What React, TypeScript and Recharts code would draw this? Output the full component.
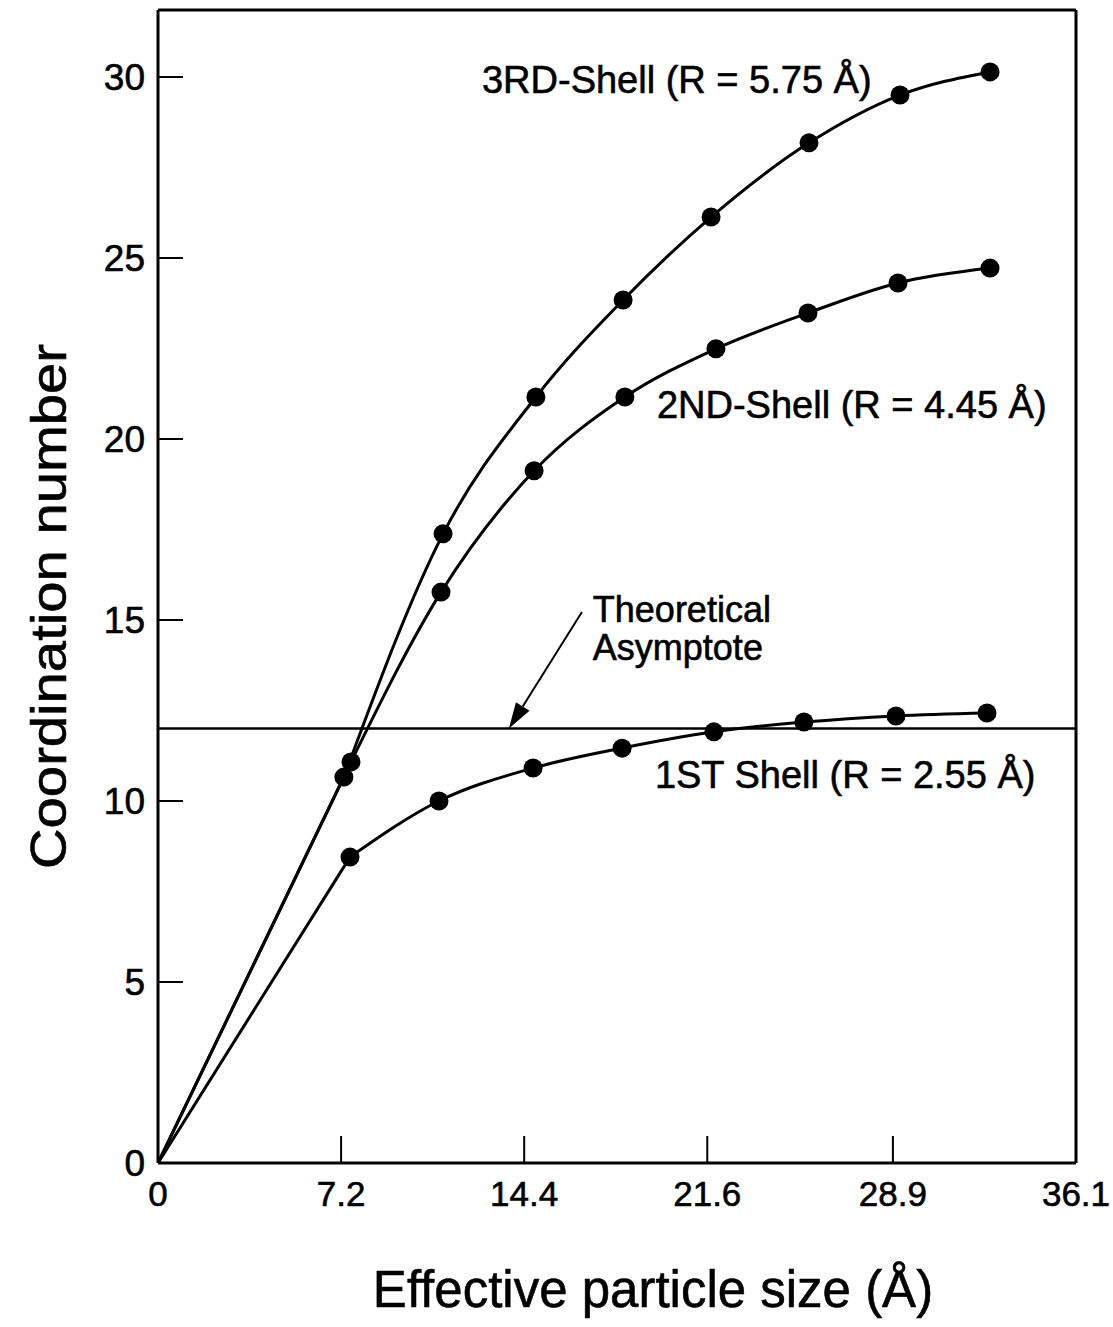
import React from 'react';
import { LineChart, Line, XAxis, YAxis, ReferenceLine, ReferenceDot, Label } from 'recharts';

// axis ticks
const xTicks = [0, 7.2, 14.4, 21.6, 28.9, 36.1];
const yTicks = [0, 5, 10, 15, 20, 25, 30];

// effective particle size (Å) and coordination number per shell; every curve starts at the origin
const shell3Size = [0, 7.31, 11.21, 14.86, 18.29, 21.75, 25.6, 29.18, 32.72];
const shell3Cn = [0, 10.66, 17.38, 21.16, 23.84, 26.13, 28.18, 29.5, 30.14];

const shell2Size = [0, 7.59, 11.13, 14.79, 18.36, 21.94, 25.56, 29.1, 32.72];
const shell2Cn = [0, 11.08, 15.77, 19.12, 21.16, 22.49, 23.48, 24.31, 24.72];

const shell1Size = [0, 7.55, 11.05, 14.75, 18.25, 21.86, 25.4, 29.02, 32.6];
const shell1Cn = [0, 8.45, 10.0, 10.91, 11.46, 11.91, 12.18, 12.35, 12.43];

const asymptote = 12;

const toPoints = (xs: number[], ys: number[]) => xs.map((size, i) => ({ size, cn: ys[i] }));

// the run up from the origin is a straight segment, the rest a smooth curve through the dots
const splitShell = (xs: number[], ys: number[]) => {
  const pts = toPoints(xs, ys);
  return { start: pts.slice(0, 2), curve: pts.slice(1) };
};

const shells = [
  splitShell(shell3Size, shell3Cn),
  splitShell(shell2Size, shell2Cn),
  splitShell(shell1Size, shell1Cn),
];

// where the annotations sit, in data units (left edge, baseline)
const notes = {
  shell3: { x: 12.74, y: 29.56, text: '3RD-Shell (R = 5.75 Å)' },
  shell2: { x: 19.62, y: 20.58, text: '2ND-Shell (R = 4.45 Å)' },
  shell1: { x: 19.54, y: 10.36, text: '1ST Shell (R = 2.55 Å)' },
  theory: { x: 17.1, y: 14.94 },
  arrowFrom: { x: 16.67, y: 15.22 },
  arrowTo: { x: 13.8, y: 12 },
};

const FONT = '"Liberation Sans", Arial, Helvetica, sans-serif';
const inkText = { fill: '#000', stroke: '#000', strokeWidth: 0.6 };

const renderDot = (props: any) => {
  const { cx, cy, index } = props;
  return <circle key={`dot-${index}`} cx={cx} cy={cy} r={9.5} fill="#000" />;
};

const noteShape = (text: string) => (p: any) => (
  <text x={p.cx} y={p.cy} fontSize={38} fontFamily={FONT} {...inkText}>
    {text}
  </text>
);

const arrowShape = (p: any) => {
  const { x1, y1, x2, y2 } = p;
  const ang = Math.atan2(y2 - y1, x2 - x1);
  const len = 26;
  const half = 8;
  const bx = x2 - len * Math.cos(ang);
  const by = y2 - len * Math.sin(ang);
  const nx = -Math.sin(ang) * half;
  const ny = Math.cos(ang) * half;
  return (
    <g>
      <line x1={x1} y1={y1} x2={bx} y2={by} stroke="#000" strokeWidth={2} />
      <polygon points={`${x2},${y2} ${bx + nx},${by + ny} ${bx - nx},${by - ny}`} fill="#000" />
    </g>
  );
};

const axisLine = { stroke: '#000', strokeWidth: 3 };
const tickLine = { stroke: '#000', strokeWidth: 2 };
const blank = () => '';

export default function App() {
  return (
    <div style={{ position: 'absolute', left: 0, top: 0, width: 1113, height: 1327, background: '#fff', fontFamily: FONT }}>
      <LineChart width={1113} height={1327} margin={{ top: 0, right: 0, bottom: 0, left: 0 }}>
        <XAxis
          dataKey="size"
          type="number"
          domain={[0, 36.1]}
          ticks={xTicks}
          interval={0}
          allowDataOverflow
          height={164}
          axisLine={axisLine}
          tickLine={tickLine}
          tickSize={-27}
          tickMargin={45}
          tick={{ fontSize: 35, fontFamily: FONT, ...inkText }}
        >
          <Label
            content={(props: any) => {
              const vb = props.viewBox;
              return (
                <text x={vb.x + vb.width / 2 + 36} y={vb.y + 144} textAnchor="middle" fontSize={51} fontFamily={FONT} {...inkText}>
                  Effective particle size (Å)
                </text>
              );
            }}
          />
        </XAxis>
        <XAxis
          xAxisId="top"
          orientation="top"
          dataKey="size"
          type="number"
          domain={[0, 36.1]}
          ticks={xTicks}
          interval={0}
          height={10}
          axisLine={axisLine}
          tickLine={tickLine}
          tickSize={-27}
          tickFormatter={blank}
        />
        <YAxis
          type="number"
          domain={[0, 31.85]}
          ticks={yTicks}
          interval={0}
          allowDataOverflow
          width={158}
          axisLine={axisLine}
          tickLine={tickLine}
          tickSize={-25}
          tickMargin={38}
          tick={{ fontSize: 37, fontFamily: FONT, ...inkText }}
        >
          <Label
            content={(props: any) => {
              const vb = props.viewBox;
              const cx = vb.x + 66;
              const cy = vb.y + vb.height / 2 + 20;
              return (
                <text
                  x={cx}
                  y={cy}
                  transform={`rotate(-90, ${cx}, ${cy})`}
                  textAnchor="middle"
                  fontSize={50}
                  textLength={525}
                  lengthAdjust="spacingAndGlyphs"
                  fontFamily={FONT}
                  {...inkText}
                >
                  Coordination number
                </text>
              );
            }}
          />
        </YAxis>
        <YAxis
          yAxisId="right"
          orientation="right"
          type="number"
          domain={[0, 31.85]}
          ticks={yTicks}
          interval={0}
          width={37}
          axisLine={axisLine}
          tickLine={tickLine}
          tickSize={-27}
          tickFormatter={blank}
        />

        <ReferenceLine y={asymptote} stroke="#000" strokeWidth={2.5} />
        <ReferenceLine segment={[notes.arrowFrom, notes.arrowTo]} shape={arrowShape} />

        {shells.map((s, i) => (
          <Line
            key={`start-${i}`}
            data={s.start}
            dataKey="cn"
            type="linear"
            stroke="#000"
            strokeWidth={3}
            dot={false}
            isAnimationActive={false}
          />
        ))}
        {shells.map((s, i) => (
          <Line
            key={`curve-${i}`}
            data={s.curve}
            dataKey="cn"
            type="monotone"
            stroke="#000"
            strokeWidth={3}
            dot={renderDot}
            isAnimationActive={false}
          />
        ))}

        <ReferenceDot x={notes.shell3.x} y={notes.shell3.y} r={0} shape={noteShape(notes.shell3.text)} />
        <ReferenceDot x={notes.shell2.x} y={notes.shell2.y} r={0} shape={noteShape(notes.shell2.text)} />
        <ReferenceDot x={notes.shell1.x} y={notes.shell1.y} r={0} shape={noteShape(notes.shell1.text)} />
        <ReferenceDot
          x={notes.theory.x}
          y={notes.theory.y}
          r={0}
          shape={(p: any) => (
            <text x={p.cx} y={p.cy} fontSize={36} fontFamily={FONT} {...inkText}>
              <tspan x={p.cx}>Theoretical</tspan>
              <tspan x={p.cx} dy={38}>Asymptote</tspan>
            </text>
          )}
        />
      </LineChart>
    </div>
  );
}
